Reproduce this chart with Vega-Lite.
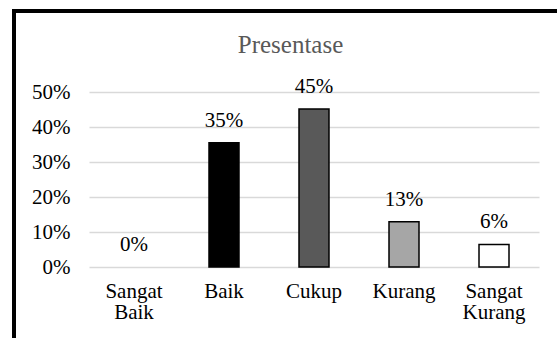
{
  "$schema": "https://vega.github.io/schema/vega-lite/v6.json",
  "width": 553,
  "height": 337,
  "padding": {"left": 14, "top": 11, "right": 0, "bottom": 0},
  "autosize": {"type": "none"},
  "background": "white",
  "title": {
    "text": "Presentase",
    "font": "Liberation Serif",
    "fontSize": 25,
    "fontWeight": "normal",
    "color": "#595959",
    "anchor": "middle",
    "baseline": "alphabetic",
    "offset": -67
  },
  "config": {
    "view": {"stroke": "black", "strokeWidth": 4},
    "font": "Liberation Serif"
  },
  "data": {
    "values": [
      {"kategori": "Sangat Baik", "persen": 0},
      {"kategori": "Baik", "persen": 0.3548},
      {"kategori": "Cukup", "persen": 0.4516},
      {"kategori": "Kurang", "persen": 0.129},
      {"kategori": "Sangat Kurang", "persen": 0.0645}
    ]
  },
  "encoding": {
    "x": {
      "field": "kategori",
      "type": "nominal",
      "sort": null,
      "scale": {
        "domain": ["Sangat Baik", "Baik", "Cukup", "Kurang", "Sangat Kurang"],
        "range": [75, 525],
        "paddingInner": 0.6667,
        "paddingOuter": 0.3333
      },
      "axis": {
        "title": null,
        "labelAngle": 0,
        "labelExpr": "split(datum.label, ' ')",
        "domain": false,
        "ticks": false,
        "tickSize": 0,
        "labelPadding": 0,
        "offset": -68,
        "labelFont": "Liberation Serif",
        "labelFontSize": 21,
        "labelLineHeight": 21,
        "labelColor": "#000000",
        "grid": false
      }
    },
    "y": {
      "field": "persen",
      "type": "quantitative",
      "scale": {"domain": [0, 0.5], "range": [256, 81], "nice": false},
      "axis": {
        "title": null,
        "format": ".0%",
        "values": [0, 0.1, 0.2, 0.3, 0.4, 0.5],
        "domain": false,
        "ticks": false,
        "tickSize": 0,
        "labelPadding": 0,
        "offset": -56,
        "labelFont": "Liberation Serif",
        "labelFontSize": 21,
        "labelColor": "#000000",
        "grid": true,
        "gridColor": "#d9d9d9",
        "gridWidth": 1.5
      }
    }
  },
  "layer": [
    {
      "transform": [{"filter": "datum.persen > 0"}],
      "mark": {"type": "bar", "stroke": "black", "strokeWidth": 1.5},
      "encoding": {
        "color": {
          "field": "kategori",
          "type": "nominal",
          "legend": null,
          "scale": {
            "domain": ["Sangat Baik", "Baik", "Cukup", "Kurang", "Sangat Kurang"],
            "range": ["#ffffff", "#000000", "#595959", "#a6a6a6", "#ffffff"]
          }
        }
      }
    },
    {
      "mark": {"type": "text", "baseline": "alphabetic", "dy": -16, "fontSize": 21, "font": "Liberation Serif", "color": "#000000"},
      "encoding": {
        "text": {"field": "persen", "type": "quantitative", "format": ".0%"}
      }
    }
  ]
}
